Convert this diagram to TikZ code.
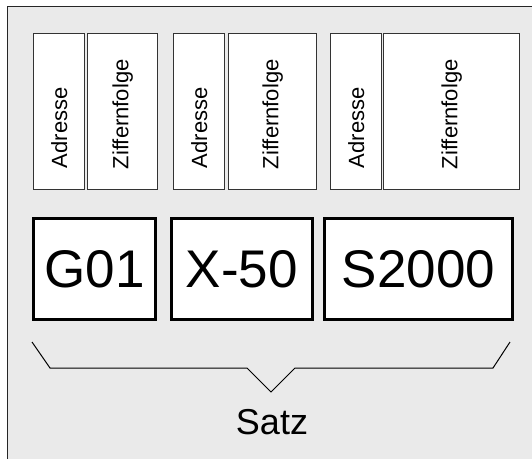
\documentclass[tikz,border=0pt]{standalone}
\usepackage{fontspec}
\setmainfont{Liberation Sans}
\usetikzlibrary{positioning}
\definecolor{bggray}{HTML}{EAEAEA}
\tikzset{
	feld/.style={draw=black!80, line width=1.3pt, fill=white, inner sep=0pt, anchor=north west, minimum height=156pt},
	wort/.style={draw=black, line width=2.8pt, fill=white, inner sep=0pt, anchor=north west, minimum height=101pt, font=\fontsize{53}{60}\selectfont},
	hoch/.style={rotate=90, anchor=west, inner sep=0pt, font=\fontsize{22}{26}\selectfont},
	klammer/.style={black, line width=1pt}
}

\begin{document}
\begin{tikzpicture}[x=1pt,y=-1pt]
\useasboundingbox (0,0) rectangle (532,459);
\fill [bggray] (7.5,6.5) rectangle (532,459);
\draw [black!85, line width=1.5pt] (7.5,459) -- (7.5,6.5) -- (532,6.5);
% obere Felder
\node [feld, minimum width=51pt] (adr1) at (33,33) {};
\node [feld, minimum width=70pt] (zif1) at (87,33) {};
\node [feld, minimum width=51pt] (adr2) at (173,33) {};
\node [feld, minimum width=88pt] (zif2) at (228,33) {};
\node [feld, minimum width=51pt] (adr3) at (330,33) {};
\node [feld, minimum width=136pt] (zif3) at (383,33) {};
\foreach \n in {1,2,3} {
  \node [hoch] (tadr\n) at ([yshift=22pt]adr\n.south) {Adresse};
  \node [hoch] (tzif\n) at ([yshift=21pt]zif\n.south) {Ziffernfolge};
}
% Woerter
\node [wort, minimum width=122pt] (g01) at (32,217) {G01};
\node [wort, minimum width=141pt] (x50) at (170,217) {X-50};
\node [wort, minimum width=188pt] (s2000) at (323,217) {S2000};
% Klammer
\coordinate (k1) at (32,342);
\coordinate (k2) at (50,368);
\coordinate (k3) at (247,368);
\coordinate (spitze) at (271,392);
\coordinate (k5) at (295,368);
\coordinate (k6) at (493,368);
\coordinate (k7) at (510,342);
\draw [klammer] (k1) -- (k2) -- (k3) -- (spitze) -- (k5) -- (k6) -- (k7);
\node [font=\fontsize{36}{40}\selectfont, inner sep=0pt] (satz) at (272,422) {Satz};
\end{tikzpicture}
\end{document}
